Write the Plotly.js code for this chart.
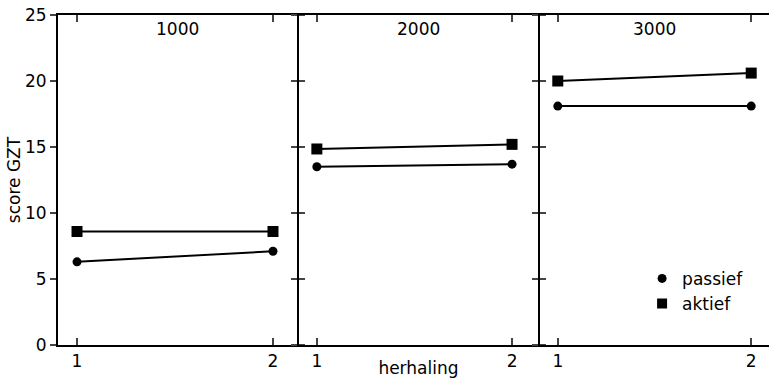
<!DOCTYPE html>
<html><head><meta charset="utf-8">
<script src="https://cdn.plot.ly/plotly-3.0.1.min.js"></script>
<style>html,body{margin:0;padding:0;background:#fff}#c{width:769px;height:378px}</style>
</head><body><div id="c"></div>
<script>
const herhaling = [1, 2];
const panels = ["1000", "2000", "3000"];
const passief = [[6.3, 7.1], [13.5, 13.7], [18.1, 18.1]];
const aktief = [[8.6, 8.6], [14.85, 15.2], [20.0, 20.6]];
const yTicks = [0, 5, 10, 15, 20, 25];

const F = "DejaVu Sans, sans-serif";
const traces = [];
panels.forEach((p, i) => {
  const xa = i === 0 ? "x" : "x" + (i + 1);
  const ya = i === 0 ? "y" : "y" + (i + 1);
  traces.push({x: herhaling, y: passief[i], xaxis: xa, yaxis: ya, mode: "lines+markers",
    line: {color: "#000", width: 2}, marker: {symbol: "circle", size: 9, color: "#000"},
    showlegend: false, cliponaxis: false});
  traces.push({x: herhaling, y: aktief[i], xaxis: xa, yaxis: ya, mode: "lines+markers",
    line: {color: "#000", width: 2}, marker: {symbol: "square", size: 11, color: "#000"},
    showlegend: false, cliponaxis: false});
});
traces.push({x: [null], y: [null], xaxis: "x3", yaxis: "y3", mode: "markers", name: "passief",
  marker: {symbol: "circle", size: 9, color: "#000"}});
traces.push({x: [null], y: [null], xaxis: "x3", yaxis: "y3", mode: "markers", name: "aktief",
  marker: {symbol: "square", size: 10, color: "#000"}});

const g = 2 / 711;
const domains = [[0, 0.336], [0.336 + g, 0.6751], [0.6751 + g, 1]];
const ranges = [[0.903, 2.122], [0.908, 2.133], [0.908, 2.092]];
const layout = {
  width: 769, height: 378,
  margin: {l: 58, r: 0, t: 15, b: 33},
  paper_bgcolor: "#fff", plot_bgcolor: "#fff",
  font: {family: F, size: 17, color: "#000"},
  showlegend: true,
  legend: {x: 0.972, xanchor: "right", y: 0.255, yanchor: "top", bgcolor: "rgba(0,0,0,0)",
    font: {size: 17}, itemwidth: 30, tracegroupgap: 0},
  annotations: panels.map((p, i) => ({text: p, xref: "paper", yref: "paper",
    x: (domains[i][0] + domains[i][1]) / 2, y: 0.995, xanchor: "center", yanchor: "top",
    showarrow: false, font: {size: 17}})),
};
panels.forEach((p, i) => {
  const s = i === 0 ? "" : String(i + 1);
  layout["xaxis" + s] = {domain: domains[i], range: ranges[i], anchor: "y" + s,
    tickvals: herhaling, ticktext: herhaling.map(String), ticks: "inside", ticklen: 7, tickwidth: 2,
    showline: true, linewidth: 2, linecolor: "#000", mirror: "ticks", showgrid: false, zeroline: false,
    tickfont: {size: 17}, fixedrange: true,
    title: i === 1 ? {text: "herhaling", font: {size: 17}, standoff: 2} : undefined};
  layout["yaxis" + s] = {domain: [0, 1], range: [0, 25], anchor: "x" + s,
    tickvals: yTicks, ticks: "outside", ticklen: 6, tickwidth: 2,
    showticklabels: i === 0, showline: true, linewidth: 2, linecolor: "#000",
    mirror: i === 2 ? false : "ticks", showgrid: false, zeroline: false, tickfont: {size: 17},
    title: i === 0 ? {text: "score GZT", font: {size: 17}, standoff: 0} : undefined};
});
Plotly.newPlot("c", traces, layout, {staticPlot: true});
</script></body></html>
